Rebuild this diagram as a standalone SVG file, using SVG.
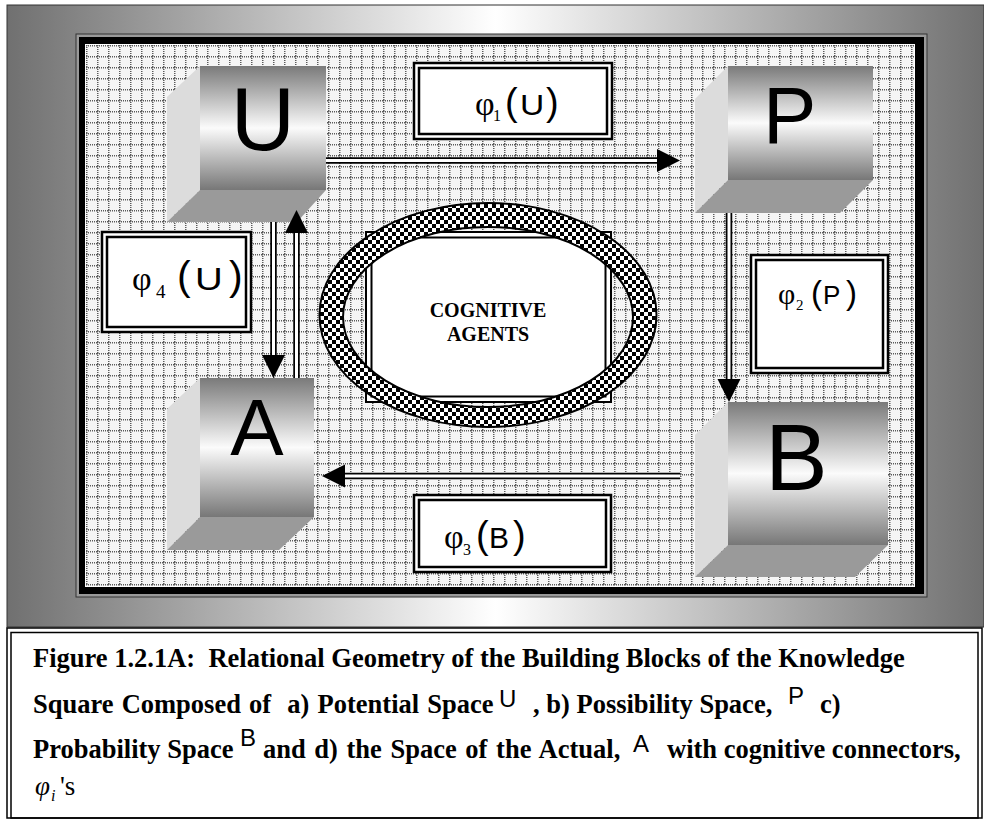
<svg xmlns="http://www.w3.org/2000/svg" width="984" height="821" viewBox="0 0 984 821">
<defs>
  <linearGradient id="frameGrad" x1="0" y1="0" x2="1" y2="0">
    <stop offset="0" stop-color="#707070"/>
    <stop offset="0.5" stop-color="#ffffff"/>
    <stop offset="1" stop-color="#707070"/>
  </linearGradient>
  <linearGradient id="faceGrad" x1="0" y1="0" x2="0" y2="1">
    <stop offset="0" stop-color="#7a7a7a"/>
    <stop offset="0.5" stop-color="#fbfbfb"/>
    <stop offset="1" stop-color="#777777"/>
  </linearGradient>
  <pattern id="grid" width="11" height="11" patternUnits="userSpaceOnUse" x="86" y="45">
    <rect width="11" height="11" fill="#f5f5f5"/>
    <path d="M0 0.75H11M0.75 0V11" stroke="#5a5a5a" stroke-width="1.5" stroke-dasharray="1 1" fill="none"/>
  </pattern>
  <pattern id="checker" width="8" height="8" patternUnits="userSpaceOnUse">
    <rect width="8" height="8" fill="#fff"/>
    <rect width="4" height="4" fill="#000"/>
    <rect x="4" y="4" width="4" height="4" fill="#000"/>
  </pattern>
  <marker id="head" markerUnits="userSpaceOnUse" markerWidth="24" markerHeight="24" refX="0" refY="11.5" orient="auto">
    <path d="M0,0 L23,11.5 L0,23 Z" fill="#000"/>
  </marker>
  <style>
    .box { fill: #fff; stroke: #000; stroke-width: 2.5; }
    .boxin { fill: none; stroke: #000; stroke-width: 2.5; }
    .side { fill: #dcdcdc; }
    .bottom { fill: #9a9a9a; }
    .front { fill: url(#faceGrad); }
    .big { font-family: "Liberation Sans", Arial, sans-serif; fill: #000; }
    .phi { font-family: "Liberation Serif", "Times New Roman", serif; fill: #000; }
    .sans { font-family: "Liberation Sans", Arial, sans-serif; fill: #000; }
    .outer { stroke: #000; stroke-width: 6.5; fill: none; }
    .inner { stroke: #fff; stroke-width: 3; fill: none; }
    .cap { font-family: "Liberation Serif", "Times New Roman", serif; font-weight: bold; font-size: 26.5px; fill: #000; }
    .capsym { font-family: "Liberation Sans", Arial, sans-serif; font-size: 24px; fill: #000; }
  </style>
</defs>

<!-- outer gradient frame -->
<rect x="7" y="5" width="977" height="622" fill="url(#frameGrad)" stroke="#333" stroke-width="1"/>
<!-- inner black border -->
<rect x="76" y="34" width="851" height="563" fill="#999" stroke="#333" stroke-width="1"/>
<rect x="79" y="37" width="845" height="557" fill="#000"/>
<rect x="85" y="44" width="830" height="543" fill="#fff"/>
<rect x="86" y="45" width="828" height="541" fill="url(#grid)"/>

<!-- label boxes -->
<g id="label-phi1">
  <rect class="box" x="414" y="63" width="198" height="76"/>
  <rect class="boxin" x="419" y="68" width="188" height="66"/>
  <text y="115"><tspan class="phi" x="475" font-size="34">φ</tspan><tspan class="phi" x="493" y="121" font-size="16">1</tspan><tspan class="sans" x="505" y="115" font-size="38">(</tspan><tspan class="sans" x="546" font-size="38">)</tspan></text>
  <text class="sans" font-size="30" transform="translate(520,115) scale(1.12,1)">U</text>
</g>
<g id="label-phi4">
  <rect class="box" x="102" y="232" width="149" height="100"/>
  <rect class="boxin" x="107" y="237" width="139" height="90"/>
  <text y="290"><tspan class="phi" x="132" font-size="34">φ</tspan><tspan class="phi" x="156" y="298" font-size="19">4</tspan><tspan class="sans" x="177" y="290" font-size="41">(</tspan><tspan class="sans" x="229" font-size="41">)</tspan></text>
  <text class="sans" font-size="32" transform="translate(195,290) scale(1.2,1)">U</text>
</g>
<g id="label-phi2">
  <rect class="box" x="751" y="255" width="137" height="118"/>
  <rect class="boxin" x="756" y="260" width="127" height="108"/>
  <text y="304"><tspan class="phi" x="778" font-size="30">φ</tspan><tspan class="phi" x="796" y="310" font-size="15">2</tspan><tspan class="sans" x="811" y="304" font-size="33">(</tspan><tspan class="sans" x="823" font-size="26">P</tspan><tspan class="sans" x="846" font-size="33">)</tspan></text>
</g>
<g id="label-phi3">
  <rect class="box" x="414" y="495" width="197" height="77"/>
  <rect class="boxin" x="419" y="500" width="187" height="67"/>
  <text y="548"><tspan class="phi" x="444" font-size="34">φ</tspan><tspan class="phi" x="463" y="555" font-size="16">3</tspan><tspan class="sans" x="476" y="548" font-size="38">(</tspan><tspan class="sans" x="489" font-size="30">B</tspan><tspan class="sans" x="513" font-size="38">)</tspan></text>
</g>

<!-- central cognitive agents -->
<g id="cognitive-agents">
  <rect x="366" y="232" width="245" height="170" fill="#fff" stroke="#000" stroke-width="2"/>
  <rect x="371.5" y="237.5" width="234" height="159" fill="none" stroke="#000" stroke-width="2"/>
  <path d="M319.5 315 a168.5 112 0 1 0 337 0 a168.5 112 0 1 0 -337 0 Z M343 317 a145 90 0 1 0 290 0 a145 90 0 1 0 -290 0 Z" fill="url(#checker)" fill-rule="evenodd" stroke="#000" stroke-width="2"/>
  <text x="488" y="317" text-anchor="middle" font-family="Liberation Serif, Times New Roman, serif" font-weight="bold" font-size="20">COGNITIVE</text>
  <text x="488" y="341" text-anchor="middle" font-family="Liberation Serif, Times New Roman, serif" font-weight="bold" font-size="20">AGENTS</text>
</g>

<!-- cubes -->
<g id="node-U">
  <polygon class="side" points="200,66 167,97 167,222 200,190"/>
  <polygon class="bottom" points="200,190 326,190 297,222 167,222"/>
  <rect class="front" x="200" y="66" width="126" height="124"/>
  <text class="big" x="263" y="150" text-anchor="middle" font-size="89">U</text>
</g>
<g id="node-P">
  <polygon class="side" points="728,66 695,99 695,213 728,180"/>
  <polygon class="bottom" points="728,180 873,180 840,213 695,213"/>
  <rect class="front" x="728" y="66" width="145" height="114"/>
  <text class="big" x="763" y="143" font-size="80">P</text>
</g>
<g id="node-A">
  <polygon class="side" points="200,378 167,409 167,550 200,517"/>
  <polygon class="bottom" points="200,517 314,517 279,550 167,550"/>
  <rect class="front" x="200" y="378" width="114" height="139"/>
  <text class="big" x="257" y="455" text-anchor="middle" font-size="80">A</text>
</g>
<g id="node-B">
  <polygon class="side" points="728,402 695,435 695,577 728,545"/>
  <polygon class="bottom" points="728,545 888,545 855,577 695,577"/>
  <rect class="front" x="728" y="402" width="160" height="143"/>
  <text class="big" x="765" y="490" font-size="94">B</text>
</g>

<!-- connectors -->
<g id="connectors">
  <line class="outer" x1="326" y1="160.5" x2="657" y2="160.5" marker-end="url(#head)"/>
  <line class="inner" x1="326" y1="160.5" x2="657" y2="160.5"/>
  <line class="outer" x1="729" y1="213" x2="729" y2="379" marker-end="url(#head)"/>
  <line class="inner" x1="729" y1="213" x2="729" y2="379"/>
  <line class="outer" x1="680" y1="476" x2="345" y2="476" marker-end="url(#head)"/>
  <line class="inner" x1="680" y1="476" x2="345" y2="476"/>
  <line class="outer" x1="273.5" y1="222" x2="273.5" y2="355" marker-end="url(#head)"/>
  <line class="inner" x1="273.5" y1="222" x2="273.5" y2="355"/>
  <line class="outer" x1="296.5" y1="378" x2="296.5" y2="233" marker-end="url(#head)"/>
  <line class="inner" x1="296.5" y1="378" x2="296.5" y2="233"/>
</g>

<!-- caption -->
<g id="caption">
  <rect x="7" y="628" width="975" height="190" fill="#fff" stroke="#000" stroke-width="1.5"/>
  <rect x="11" y="632.5" width="967" height="185.5" fill="none" stroke="#000" stroke-width="1.5"/>
  <text class="cap" x="33" y="667" xml:space="preserve">Figure 1.2.1A:  Relational Geometry of the Building Blocks of the Knowledge</text>
  <text class="cap" x="33" y="713" word-spacing="1.5" xml:space="preserve">Square Composed of  a) Potential Space</text>
  <text class="capsym" x="499" y="707">U</text>
  <text class="cap" x="533" y="713" xml:space="preserve">, b) Possibility Space,</text>
  <text class="capsym" x="788" y="704">P</text>
  <text class="cap" x="820" y="713">c)</text>
  <text class="cap" x="33" y="758" xml:space="preserve">Probability Space</text>
  <text class="capsym" x="240" y="746">B</text>
  <text class="cap" x="263" y="758" word-spacing="2" xml:space="preserve">and d) the Space of the Actual,</text>
  <text class="capsym" x="633" y="752">A</text>
  <text class="cap" x="667" y="758" xml:space="preserve">with cognitive connectors,</text>
  <text font-family="Liberation Serif, Times New Roman, serif" font-size="27" fill="#000" y="795"><tspan x="35" font-style="italic">φ</tspan><tspan x="51" y="801" font-style="italic" font-size="16">i</tspan><tspan x="60" y="795">'s</tspan></text>
</g>
</svg>
